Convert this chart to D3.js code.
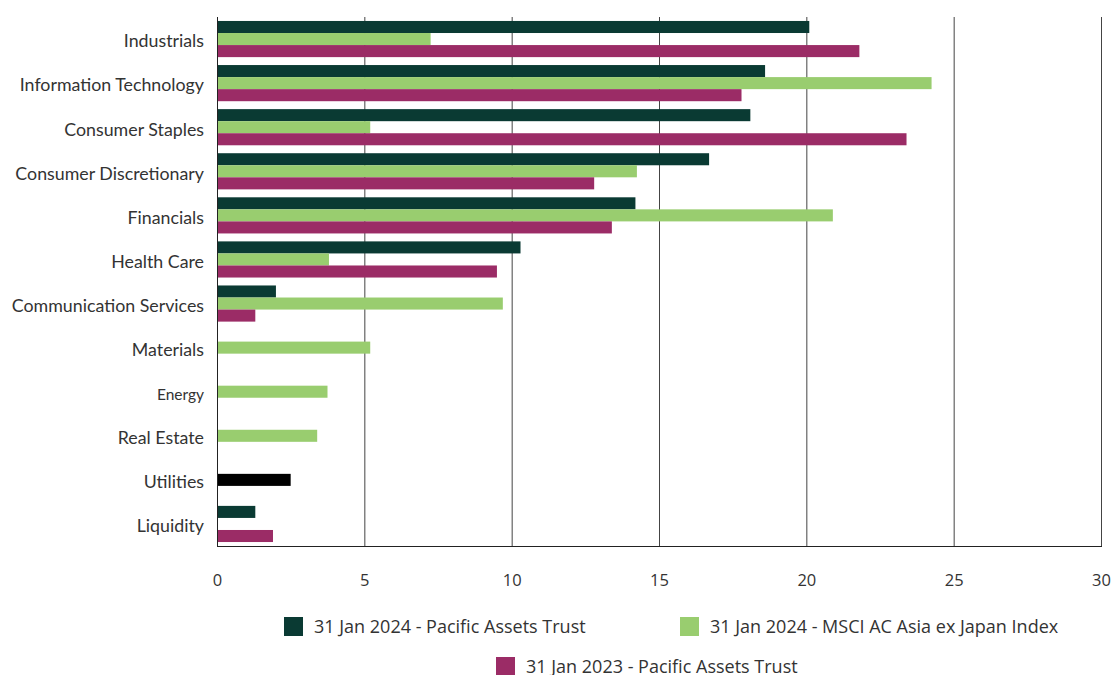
<!DOCTYPE html>
<html><head><meta charset="utf-8">
<script src="https://cdn.jsdelivr.net/npm/d3@7"></script>
<style>body{margin:0;background:#fff;}svg{display:block;}</style>
</head><body>
<svg id="chart" width="1114" height="675"></svg>
<script>
const categories = ["Industrials","Information Technology","Consumer Staples","Consumer Discretionary","Financials","Health Care","Communication Services","Materials","Energy","Real Estate","Utilities","Liquidity"];
const seriesNames = ["31 Jan 2024 - Pacific Assets Trust","31 Jan 2024 - MSCI AC Asia ex Japan Index","31 Jan 2023 - Pacific Assets Trust"];
const pat2024 = [20.1,18.6,18.1,16.7,14.2,10.3,2.0,null,null,null,null,1.3];
const msci2024 = [7.25,24.25,5.2,14.25,20.9,3.8,9.7,5.2,3.75,3.4,2.5,null];
const pat2023 = [21.8,17.8,23.4,12.8,13.4,9.5,1.3,null,null,null,null,1.9];
const xTicks = [0,5,10,15,20,25,30];
const colors = ["#0a3a33","#99cd6f","#9b2c66"];
const pointColorOverride = {"1|Utilities":"#000000"};

const svg = d3.select("#chart");
const m = {left:217, right:1101, top:17, bottom:546};
const x = d3.scaleLinear().domain([0,30]).range([m.left, m.right]);
const y = d3.scaleBand().domain(categories).range([m.top, m.bottom]).paddingInner(0.18).paddingOuter(0.09);
const sub = d3.scaleBand().domain([0,1,2]).range([0, y.bandwidth()]);
const allSeries = [pat2024, msci2024, pat2023];

// grid
svg.append("g").selectAll("line").data(xTicks.filter(t=>t>0)).join("line")
  .attr("x1",d=>x(d)+0.5).attr("x2",d=>x(d)+0.5)
  .attr("y1",m.top).attr("y2",m.bottom)
  .attr("stroke","#444").attr("stroke-width",1);

// bars
allSeries.forEach((vals,si)=>{
  svg.append("g").selectAll("rect").data(categories.map((c,i)=>({c,v:vals[i]})).filter(d=>d.v!=null)).join("rect")
    .attr("x",x(0)).attr("y",d=>y(d.c)+sub(si))
    .attr("width",d=>x(d.v)-x(0)).attr("height",sub.bandwidth())
    .attr("fill",d=>pointColorOverride[si+"|"+d.c]||colors[si]);
});

// axes lines
svg.append("line").attr("x1",m.left+0.5).attr("x2",m.left+0.5).attr("y1",m.top).attr("y2",m.bottom).attr("stroke","#222");
svg.append("line").attr("x1",m.left).attr("x2",m.right+1).attr("y1",m.bottom+0.5).attr("y2",m.bottom+0.5).attr("stroke","#222");

// x tick labels
const xa = svg.append("g").attr("transform",`translate(0,${m.bottom})`).call(d3.axisBottom(x).tickValues(xTicks).tickSize(0).tickPadding(28));
xa.select(".domain").remove();
xa.selectAll("text").attr("font-family","'Open Sans', sans-serif").attr("font-size",16.5).attr("fill","#333");

// y labels
const ya = svg.append("g").attr("transform",`translate(${m.left},0)`).call(d3.axisLeft(y).tickSize(0).tickPadding(13));
ya.select(".domain").remove();
ya.selectAll("text").attr("font-family","Lato, sans-serif").attr("font-size",d=>d==="Energy"?15.5:17.8).attr("fill","#333").attr("dy",null).attr("y",8.3);

// legend
const legendPos = [{x:284,y:617},{x:680,y:617},{x:496,y:657}];
const lg = svg.append("g").selectAll("g").data(seriesNames).join("g").attr("transform",(d,i)=>`translate(${legendPos[i].x},${legendPos[i].y})`);
lg.append("rect").attr("width",19).attr("height",19).attr("fill",(d,i)=>colors[i]);
lg.append("text").attr("x",30).attr("y",(d,i)=>i===2?15.5:16).attr("font-family","'Open Sans', sans-serif").attr("font-size",18).attr("fill","#333").text(d=>d);
</script>
</body></html>
